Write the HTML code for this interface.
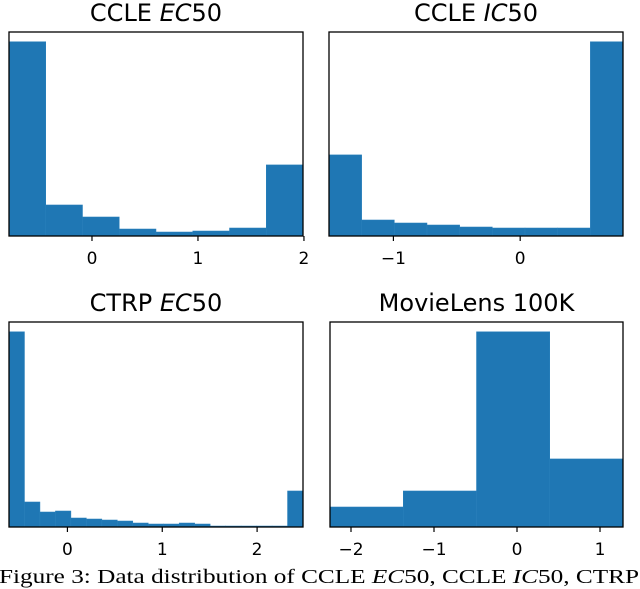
<!DOCTYPE html>
<html><head><meta charset="utf-8"><style>
html,body{margin:0;padding:0;background:#fff;}
svg{display:block;}
.cap{font-family:"Liberation Serif","Times New Roman",serif;}
.dv{font-family:"DejaVu Sans",sans-serif;}
</style></head><body>
<svg id="fig" width="640" height="589" viewBox="0 0 640 589" xmlns="http://www.w3.org/2000/svg">
<text class="cap" x="319" y="583" font-size="20" textLength="640" lengthAdjust="spacingAndGlyphs" text-anchor="middle">Figure 3: Data distribution of CCLE <tspan font-style="italic">EC</tspan>50, CCLE <tspan font-style="italic">IC</tspan>50, CTRP</text>
</svg>
<script>
// Panel 1: CCLE EC50
const p1Counts = [194, 31, 19, 7, 4, 5, 8, 71];
const p1Range = [-0.783, 1.991];
const p1Ticks = [0, 1, 2];
const p1TickLabels = ["0", "1", "2"];
// Panel 2: CCLE IC50
const p2Counts = [81, 16, 13, 11, 9, 8, 8, 8, 194];
const p2Range = [-1.508, 0.811];
const p2Ticks = [-1, 0];
const p2TickLabels = ["\u22121", "0"];
// Panel 3: CTRP EC50
const p3Counts = [195, 25, 15, 16, 9, 8, 7, 6, 4, 3, 3, 4, 3, 1, 1, 1, 1, 1, 36];
const p3Range = [-0.616, 2.484];
const p3Ticks = [0, 1, 2];
const p3TickLabels = ["0", "1", "2"];
// Panel 4: MovieLens 100K
const p4Counts = [20, 36, 195, 68];
const p4Range = [-2.253, 1.277];
const p4Ticks = [-2, -1, 0, 1];
const p4TickLabels = ["\u22122", "\u22121", "0", "1"];

const NS = "http://www.w3.org/2000/svg";
const svg = document.getElementById("fig");
function mk(tag, attrs, parent) {
  const e = document.createElementNS(NS, tag);
  for (const k in attrs) e.setAttribute(k, attrs[k]);
  (parent || svg).appendChild(e);
  return e;
}
function panel(key, box, counts, range, ticks, labels, titleParts) {
  const g = mk("g", {});
  
  
  const [x0, y0, x1, y1] = box;
  const xs = v => x0 + (v - range[0]) / (range[1] - range[0]) * (x1 - x0);
  const ymax = Math.max(...counts) * 1.05;
  const ys = v => y1 - v / ymax * (y1 - y0);
  const bw = (range[1] - range[0]) / counts.length;
  counts.forEach((c, i) => {
    const a = xs(range[0] + i * bw), b = xs(range[0] + (i + 1) * bw);
    const r = mk("rect", {x: a, y: ys(c), width: b - a, height: y1 - ys(c), fill: "#1f77b4", stroke: "#2a80bb", "stroke-width": 0.5}, g);
    
    
  });
  const frame = mk("rect", {x: x0, y: y0, width: x1 - x0, height: y1 - y0, fill: "none", stroke: "#000", "stroke-width": 1.3}, g);
  
  
  ticks.forEach((t, i) => {
    const x = xs(t);
    const tk = mk("line", {x1: x, x2: x, y1: y1, y2: y1 + 5, stroke: "#000", "stroke-width": 1.2}, g);
    
    
    const tl = mk("text", {x: x, y: y1 + 28, "text-anchor": "middle", "class": "dv"}, g);
    tl.style.fontSize = "17px";
    tl.textContent = labels[i];
    
    
  });
  const tt = mk("text", {x: (x0 + x1) / 2, y: y0 - 11, "text-anchor": "middle", "class": "dv"}, g);
  tt.style.fontSize = "24px";
  titleParts.forEach(p => {
    const s = mk("tspan", p[1] ? {"font-style": "italic"} : {}, tt);
    s.textContent = p[0];
  });
  
  
}
panel("ccle-ec50", [9, 32, 303, 236], p1Counts, p1Range, p1Ticks, p1TickLabels, [["CCLE ", 0], ["EC", 1], ["50", 0]]);
panel("ccle-ic50", [329, 32, 623, 236], p2Counts, p2Range, p2Ticks, p2TickLabels, [["CCLE ", 0], ["IC", 1], ["50", 0]]);
panel("ctrp-ec50", [9, 322, 303, 527], p3Counts, p3Range, p3Ticks, p3TickLabels, [["CTRP ", 0], ["EC", 1], ["50", 0]]);
panel("movielens", [330, 322, 623, 527], p4Counts, p4Range, p4Ticks, p4TickLabels, [["MovieLens 100K", 0]]);
</script>
</body></html>
